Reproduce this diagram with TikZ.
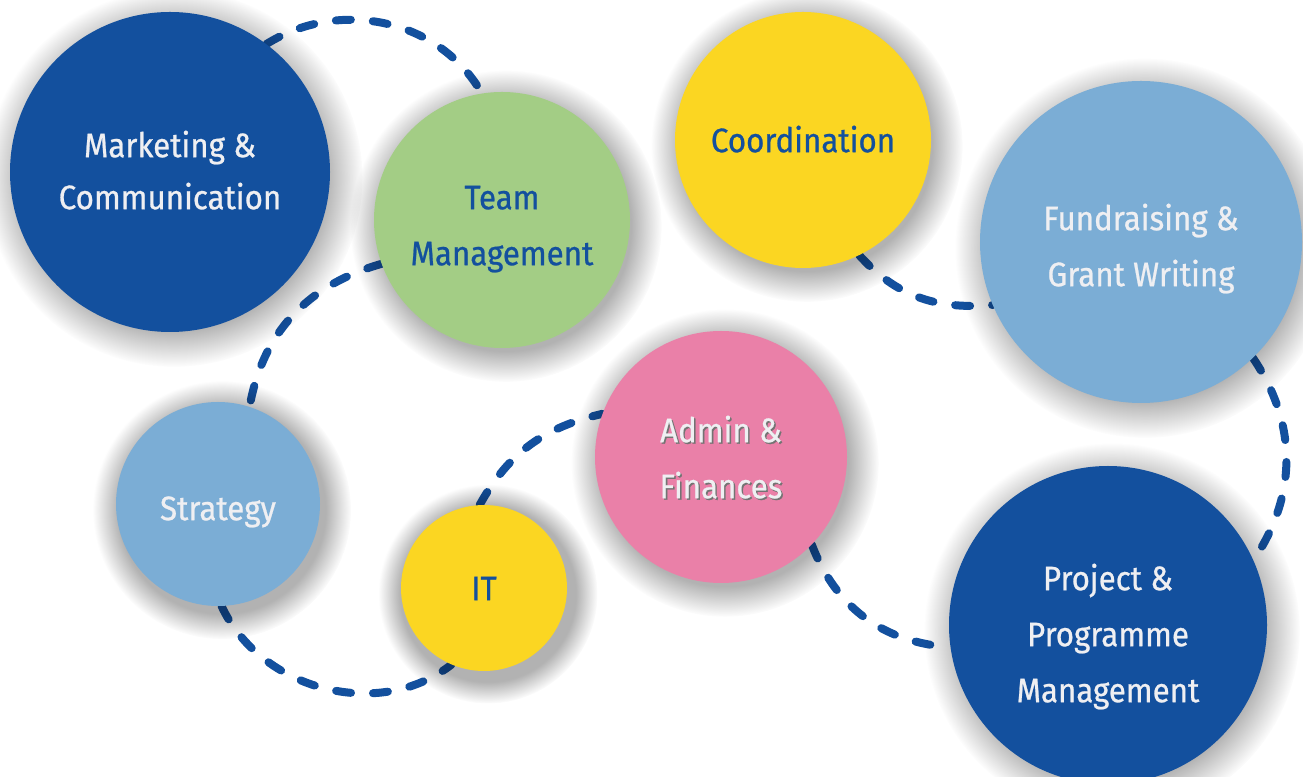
\documentclass[tikz,border=0pt]{standalone}
\usepackage{fontspec}
\setmainfont{Fira Sans}[FakeBold=0.7,FakeStretch=0.92]
\usetikzlibrary{backgrounds,fadings}
\definecolor{dblue}{HTML}{13509E}
\definecolor{bgreen}{HTML}{A3CD85}
\definecolor{byellow}{HTML}{FBD622}
\definecolor{lblue}{HTML}{7BADD5}
\definecolor{bpink}{HTML}{EA80A8}
\definecolor{wtext}{HTML}{EFEFF2}
\newcommand\shtxt[1]{\leavevmode\rlap{\kern1.5pt\raisebox{-1.5pt}{\textcolor{black!55}{#1}}}#1}
\newcommand\lowr[2]{\raisebox{-#1}[\height][\depth]{\begin{tabular}{@{}c@{}}#2\end{tabular}}}
\newcommand\bshadow[3]{\fill[black,fill opacity=0.3,path fading=circle with fuzzy edge 20 percent]
  (#1+4,#2-6) circle ({#3*1.03+24});}
\begin{document}
\begin{tikzpicture}[x=1pt,y=1pt,
  bubble/.style={circle,inner sep=0pt,font=\fontsize{34}{56}\selectfont},
  link/.style={draw=dblue,line width=8pt,line cap=round,dash pattern=on 15pt off 22pt}]
\useasboundingbox (0,0) rectangle (1303,776);
\bshadow{170}{604}{160}
\bshadow{502}{556}{128}
\bshadow{803}{636}{128}
\bshadow{1141}{534}{161}
\bshadow{218}{272}{102}
\bshadow{484}{188}{83}
\bshadow{721}{319}{126}
\bshadow{1108}{151}{159}
\node[bubble,fill=dblue,text=wtext,minimum size=320pt] (mk) at (170,604) {\lowr{0pt}{Marketing \&\\[-4pt]Communication}};
\node[bubble,fill=bgreen,text=dblue,minimum size=256pt] (tm) at (502,556) {\lowr{6pt}{Team\\Management}};
\node[bubble,fill=byellow,text=dblue,minimum size=256pt] (co) at (803,636) {\lowr{1pt}{Coordination}};
\node[bubble,fill=lblue,text=wtext,minimum size=322pt] (fu) at (1141,534) {\lowr{5pt}{Fundraising \&\\Grant Writing}};
\node[bubble,fill=lblue,text=wtext,minimum size=204pt] (st) at (218,272) {\lowr{5pt}{Strategy}};
\node[bubble,fill=byellow,text=dblue,minimum size=166pt] (it) at (484,188) {\lowr{1pt}{IT}};
\node[bubble,fill=bpink,text=wtext,minimum size=252pt] (ad) at (721,319) {\lowr{2pt}{\shtxt{Admin \&}\\\shtxt{Finances}}};
\node[bubble,fill=dblue,text=wtext,minimum size=318pt] (pr) at (1108,151) {\lowr{10pt}{Project \&\\Programme\\Management}};
\begin{scope}[on background layer]
\fill[white] (0,0) rectangle (1303,776);
\draw[link] (mk.53) to[out=32,in=120] (tm.99);
\draw[link] (tm.200) to[out=196,in=80] (st.72);
\draw[link] (st.272) to[out=295,in=218] (it.247);
\draw[link] (it.93) to[out=61,in=193] (ad.160);
\draw[link] (co.296) to[out=312,in=185] (fu.203);
\draw[link] (fu.314) to[out=-56,in=56] (pr.24);
\draw[link] (ad.316) to[out=291,in=176] (pr.188);
\end{scope}
\end{tikzpicture}
\end{document}
